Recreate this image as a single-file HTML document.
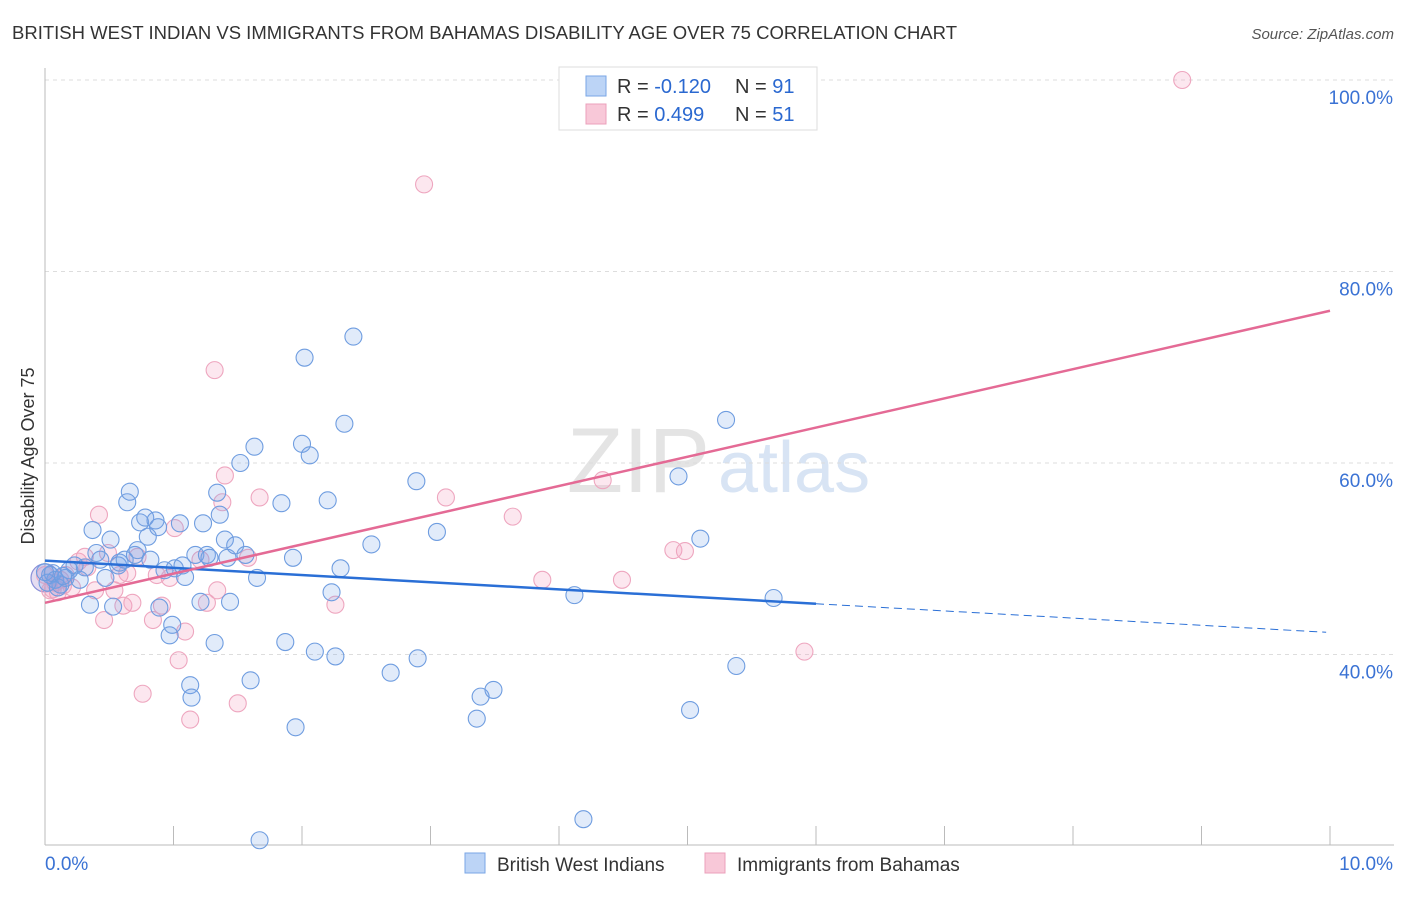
<!DOCTYPE html>
<html><head><meta charset="utf-8">
<style>
body{margin:0;background:#fff;font-family:"Liberation Sans",sans-serif;}
svg text{font-family:"Liberation Sans",sans-serif;}
</style></head>
<body>
<svg id="chart" width="1406" height="892" xmlns="http://www.w3.org/2000/svg">
<text x="12" y="39" font-size="18" fill="#333" textLength="945" lengthAdjust="spacingAndGlyphs">BRITISH WEST INDIAN VS IMMIGRANTS FROM BAHAMAS DISABILITY AGE OVER 75 CORRELATION CHART</text>
<text x="1394" y="39" font-size="15" fill="#555" font-style="italic" text-anchor="end">Source: ZipAtlas.com</text>
<text x="34" y="456" font-size="18" fill="#333" transform="rotate(-90 34 456)" text-anchor="middle">Disability Age Over 75</text>
<text x="710" y="492" font-size="92" fill="#e4e4e4" font-family="Liberation Serif" text-anchor="end">ZIP</text>
<text x="718" y="492" font-size="72" fill="#d8e4f4">atlas</text>
<g id="grid"></g><g id="axes"></g><g id="pts"></g><g id="trends"></g>
<g>
<rect x="559" y="67" width="258" height="63" fill="#fff" stroke="#ddd"/>
<rect x="586" y="76" width="20" height="20" fill="#bcd4f6" stroke="#7aa6e6"/>
<rect x="586" y="104" width="20" height="20" fill="#f8c8d8" stroke="#eba0bb"/>
<text x="617" y="93" font-size="20" fill="#333">R = <tspan fill="#2a68d0">-0.120</tspan></text>
<text x="735" y="93" font-size="20" fill="#333">N = <tspan fill="#2a68d0">91</tspan></text>
<text x="617" y="121" font-size="20" fill="#333">R = <tspan fill="#2a68d0"> 0.499</tspan></text>
<text x="735" y="121" font-size="20" fill="#333">N = <tspan fill="#2a68d0">51</tspan></text>
</g>
<g>
<rect x="465" y="853" width="20" height="20" fill="#bcd4f6" stroke="#7aa6e6"/>
<text x="497" y="871" font-size="19" fill="#333">British West Indians</text>
<rect x="705" y="853" width="20" height="20" fill="#f8c8d8" stroke="#eba0bb"/>
<text x="737" y="871" font-size="19" fill="#333">Immigrants from Bahamas</text>
</g>
</svg>
<script>
const yTicks=[40,60,80,100];
const yTickLabels=["40.0%","60.0%","80.0%","100.0%"];
const xTickLabels=["0.0%","10.0%"];
const blueX=[.04,.08,.12,.16,.19,.23,.27,.31,.35,.37,.40,.43,.47,.51,.53,.57,.58,.62,.64,.66,.70,.72,.74,.78,.80,.82,.86,.88,.89,.93,.97,.99,1.01,1.05,1.07,1.09,1.13,1.14,1.17,1.21,1.23,1.26,1.28,1.32,1.34,1.36,1.40,1.42,1.44,1.48,1.52,1.56,1.60,1.63,1.65,1.67,1.84,1.87,1.93,1.95,2.00,2.02,2.06,2.10,2.20,2.23,2.26,2.30,2.33,2.40,2.54,2.69,2.89,2.90,3.05,3.36,3.39,3.49,4.12,4.19,4.93,5.02,5.10,5.30,5.38,5.67,0.02,0.06,0.10,0.14,0.0];
const blueY=[48.3,47.8,47.3,48.0,48.8,49.3,47.8,49.1,45.2,53.0,50.6,49.9,48.0,52.0,45.0,49.3,49.6,49.9,55.9,57.0,50.4,50.9,53.8,54.3,52.3,49.9,54.0,53.3,44.9,48.8,42.0,43.1,49.0,53.7,49.3,48.1,36.8,35.5,50.4,45.5,53.7,50.4,50.1,41.2,56.9,54.6,52.0,50.1,45.5,51.4,60.0,50.4,37.3,61.7,48.0,20.6,55.8,41.3,50.1,32.4,62.0,71.0,60.8,40.3,56.1,46.5,39.8,49.0,64.1,73.2,51.5,38.1,58.1,39.6,52.8,33.3,35.6,36.3,46.2,22.8,58.6,34.2,52.1,64.5,38.8,45.9,47.5,48.5,47.0,48.2,48.6];
const pinkX=[0,.04,.08,.12,.16,.21,.26,.31,.33,.39,.42,.46,.49,.54,.58,.61,.64,.68,.72,.76,.84,.87,.91,.97,1.01,1.04,1.09,1.13,1.21,1.26,1.32,1.34,1.38,1.40,1.50,1.58,1.67,2.26,2.95,3.12,3.64,3.87,4.34,4.49,4.89,4.98,5.91,8.85,0.10,0.14,0.06];
const pinkY=[48.3,46.7,47.5,47.8,48.3,47.0,49.7,50.2,49.1,46.7,54.6,43.6,50.6,46.7,48.3,45.1,48.5,45.4,50.2,35.9,43.6,48.3,45.1,48.0,53.2,39.4,42.4,33.2,49.9,45.4,69.7,46.7,55.9,58.7,34.9,50.1,56.4,45.2,89.1,56.4,54.4,47.8,58.2,47.8,50.9,50.8,40.3,100.0,46.5,47.2,46.8];
const blueTrend=[49.8,-0.75];
const pinkTrend=[45.4,3.05];
const NS="http://www.w3.org/2000/svg";
const X=v=>45+v*128.5, Y=v=>80+(100-v)*9.575;
function mk(t,a,p){const e=document.createElementNS(NS,t);for(const k in a)e.setAttribute(k,a[k]);document.getElementById(p).appendChild(e);return e;}
yTicks.forEach((t,i)=>{
 const g=mk('line',{x1:45,x2:1394,y1:Y(t),y2:Y(t),stroke:'#ddd','stroke-dasharray':'4,4'},'grid');
 
 
 const l=mk('text',{x:1393,y:Y(t)+24,'font-size':19,fill:'#3a72d4','text-anchor':'end'},'axes');
 l.textContent=yTickLabels[i];
 
 
});
const ax=mk('line',{x1:45,x2:45,y1:68,y2:845,stroke:'#bbb'},'axes');


const bx=mk('line',{x1:45,x2:1394,y1:845,y2:845,stroke:'#bbb'},'axes');


for(let i=0;i<=10;i++){const t=mk('line',{x1:X(i),x2:X(i),y1:826,y2:845,stroke:'#bbb'},'axes');
 
 }
[[0,'start',45],[10,'end',1393]].forEach((d,i)=>{const t=mk('text',{x:d[2],y:870,'font-size':19,fill:'#3a72d4','text-anchor':d[1]},'axes');t.textContent=xTickLabels[i];
 
 });
const big=mk('circle',{cx:X(0),cy:Y(48),r:14,fill:'rgba(150,120,200,0.25)',stroke:'#8a8fd8','stroke-width':1.2},'pts');


pinkX.forEach((x,i)=>{const c=mk('circle',{cx:X(x),cy:Y(pinkY[i]),r:8.5,fill:'rgba(244,160,190,0.25)',stroke:'#eea6bf','stroke-width':1.1},'pts');
 
 });
blueX.forEach((x,i)=>{const c=mk('circle',{cx:X(x),cy:Y(blueY[i]),r:8.5,fill:'rgba(120,165,230,0.22)',stroke:'#6f9de0','stroke-width':1.1},'pts');
 
 });
const b1=mk('line',{x1:X(0),y1:Y(blueTrend[0]),x2:X(6),y2:Y(blueTrend[0]+blueTrend[1]*6),stroke:'#2a6fd6','stroke-width':2.5},'trends');


const b2=mk('line',{x1:X(6),y1:Y(blueTrend[0]+blueTrend[1]*6),x2:X(9.97),y2:Y(blueTrend[0]+blueTrend[1]*9.97),stroke:'#2a6fd6','stroke-width':1,'stroke-dasharray':'8,5'},'trends');


const p1=mk('line',{x1:X(0),y1:Y(pinkTrend[0]),x2:X(10),y2:Y(pinkTrend[0]+pinkTrend[1]*10),stroke:'#e46a95','stroke-width':2.5},'trends');


</script>
</body></html>
